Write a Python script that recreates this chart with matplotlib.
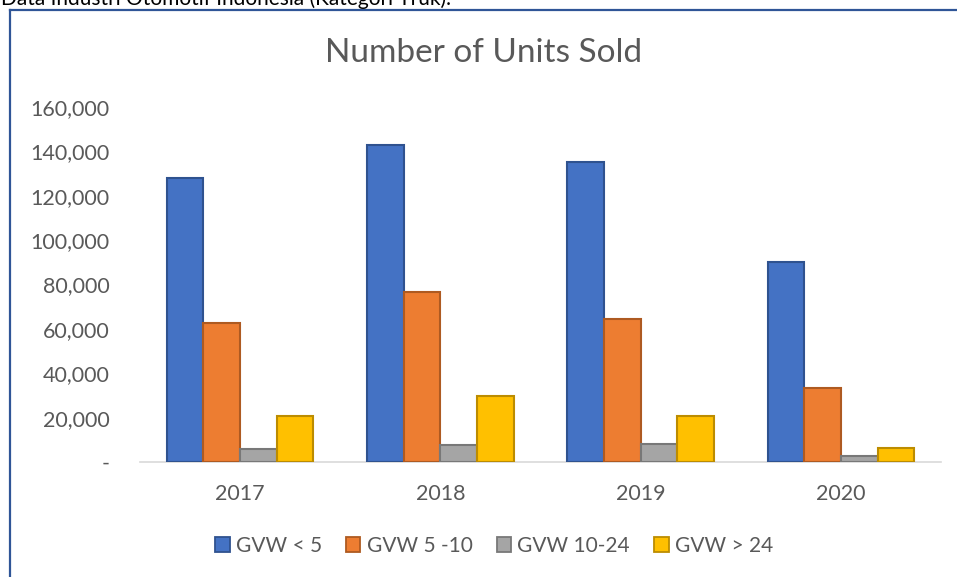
import matplotlib
matplotlib.use('Agg')
import matplotlib.pyplot as plt
import numpy as np
from matplotlib.patches import Patch
from matplotlib.lines import Line2D

# data
years = ['2017', '2018', '2019', '2020']
series = ['GVW < 5', 'GVW 5 -10', 'GVW 10-24', 'GVW > 24']
gvw_lt5 = [128000, 143000, 135000, 90200]
gvw_5_10 = [62500, 76500, 64300, 33200]
gvw_10_24 = [5900, 7500, 7900, 2700]
gvw_gt24 = [20900, 29800, 20800, 6300]
y_ticks = [0, 20000, 40000, 60000, 80000, 100000, 120000, 140000, 160000]
y_labels = ['-', '20,000', '40,000', '60,000', '80,000', '100,000', '120,000', '140,000', '160,000']

fills = ['#4472C4', '#ED7D31', '#A5A5A5', '#FFC000']
edges = ['#2F528F', '#AE5A21', '#787878', '#BC8C00']
text_col = '#595959'

plt.rcParams['font.family'] = ['Lato', 'DejaVu Sans']

W, H = 957, 577
fig = plt.figure(figsize=(W / 100, H / 100), dpi=100)

# header line of the document, cut off at the top
fig.text(1 / W, 1 - 5 / H, 'Data Industri Otomotif Indonesia (Kategori Truk).',
         fontsize=15, color='black', ha='left', va='baseline')

# chart area border (only left and top visible)
fig.add_artist(Line2D([9.5 / W, 9.5 / W], [0, 1 - 9.5 / H], color='#2F5597', lw=1.6))
fig.add_artist(Line2D([9.5 / W, 1], [1 - 9.5 / H, 1 - 9.5 / H], color='#2F5597', lw=1.6))

left, right = 140 / W, 941 / W
bottom, top = 1 - 462 / H, 1 - 107 / H
ax = fig.add_axes([left, bottom, right - left, top - bottom])

x = np.arange(len(years))
w = 0.183
all_vals = [gvw_lt5, gvw_5_10, gvw_10_24, gvw_gt24]
for i, vals in enumerate(all_vals):
    ax.bar(x + (i - 1.5) * w, vals, width=w, color=fills[i], edgecolor=edges[i],
           linewidth=1.5, zorder=3)

ax.set_xlim(-0.5, 3.5)
ax.set_ylim(0, 160000)
ax.set_yticks(y_ticks)
ax.set_yticklabels(y_labels)
ax.set_xticks(x)
ax.set_xticklabels(years)
ax.tick_params(axis='both', length=0, labelsize=15.5, colors=text_col)
ax.tick_params(axis='y', pad=22)
ax.tick_params(axis='x', pad=16)
for s in ['top', 'right', 'left']:
    ax.spines[s].set_visible(False)
ax.spines['bottom'].set_color('#D9D9D9')
ax.spines['bottom'].set_linewidth(1.2)

fig.text(483.5 / W, 1 - 53 / H, 'Number of Units Sold', fontsize=24, color=text_col,
         ha='center', va='center')

handles = [Patch(facecolor=fills[i], edgecolor=edges[i], linewidth=1.3) for i in range(4)]
fig.legend(handles, series, loc='center', bbox_to_anchor=(494 / W, 1 - 546 / H),
           ncol=4, frameon=False, fontsize=15, labelcolor=text_col,
           handlelength=0.7, handleheight=0.7, handletextpad=0.3, columnspacing=1.15)

fig.savefig('out.png', dpi=100, facecolor='white')
